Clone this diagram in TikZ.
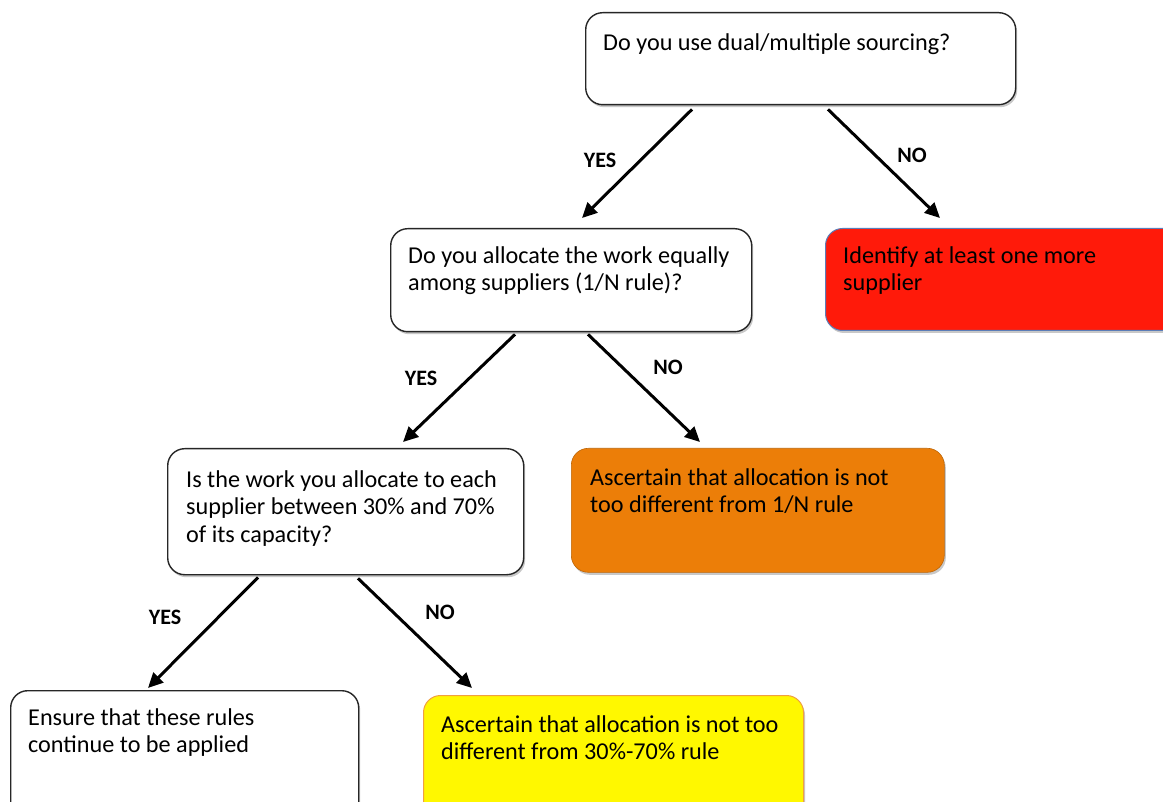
\documentclass[tikz,border=0pt]{standalone}
\usepackage{fontspec}
\setmainfont{Carlito}
\usetikzlibrary{calc,arrows.meta,shadows}
\definecolor{boxred}{HTML}{FF1A0A}
\definecolor{boxorange}{HTML}{EC7E08}
\definecolor{boxyellow}{HTML}{FFF800}
\definecolor{redline}{HTML}{5B7DB8}
\definecolor{yelline}{HTML}{F0A040}
\tikzset{
  box/.style={rectangle, rounded corners=17pt, draw=black!85, line width=1.4pt, fill=white,
    anchor=north west, inner sep=0pt,
    drop shadow={shadow xshift=1.5pt, shadow yshift=-2.5pt, opacity=0.3, fill=black!70}},
  txt/.style={anchor=north west, inner sep=0pt, align=left, font=\fontsize{24.2}{27.5}\selectfont},
  lab/.style={inner sep=0pt, font=\fontsize{22}{24}\selectfont\bfseries},
  arr/.style={line width=3pt, -{Triangle[length=15pt,width=14pt]}, shorten <=0pt}
}
\begin{document}
\begin{tikzpicture}[x=1pt,y=-1pt]
\useasboundingbox (0,0) rectangle (1163,802);
\clip (0,0) rectangle (1163,802);
\fill[white] (0,0) rectangle (1163,802);
% boxes
\node[box, minimum width=430pt, minimum height=92pt] (b1) at (585,12) {};
\node[box, minimum width=361pt, minimum height=103pt] (b2) at (390,228) {};
\node[box, draw=redline, line width=1pt, fill=boxred, minimum width=360pt, minimum height=102pt] (b3) at (825,228) {};
\node[box, minimum width=356pt, minimum height=126pt] (b4) at (167,448) {};
\node[box, draw=boxorange!80!black, line width=0.6pt, fill=boxorange, minimum width=373pt, minimum height=124pt] (b5) at (571,448) {};
\node[box, minimum width=348pt, minimum height=140pt] (b6) at (10,690) {};
\node[box, draw=yelline, line width=1pt, fill=boxyellow, minimum width=380pt, minimum height=140pt] (b7) at (423,695) {};
% texts
\node[txt] (t1) at ($(b1.north west)+(18,19)$) {\strut Do you use dual/multiple sourcing?};
\node[txt] (t2) at ($(b2.north west)+(18,16)$) {\strut Do you allocate the work equally\\among suppliers (1/N rule)?};
\node[txt] (t3) at ($(b3.north west)+(18,16)$) {\strut Identify at least one more\\supplier};
\node[txt] (t4) at ($(b4.north west)+(19,20)$) {\strut Is the work you allocate to each\\supplier between 30\% and 70\%\\of its capacity?};
\node[txt] (t5) at ($(b5.north west)+(19,18)$) {\strut Ascertain that allocation is not\\too different from 1/N rule};
\node[txt] (t6) at ($(b6.north west)+(18,16)$) {\strut Ensure that these rules\\continue to be applied};
\node[txt] (t7) at ($(b7.north west)+(18,18)$) {\strut Ascertain that allocation is not too\\different from 30\%-70\% rule};
% arrows
\draw[arr] ($(b1.south west)+(107,4)$) -- ($(b2.north west)+(192,-10)$);
\draw[arr] ($(b1.south west)+(243,4)$) -- ($(b3.north west)+(115,-10)$);
\draw[arr] ($(b2.south west)+(125,2)$) -- ($(b4.north west)+(236,-6)$);
\draw[arr] ($(b2.south west)+(198,2)$) -- ($(b5.north west)+(129,-6)$);
\draw[arr] ($(b4.south west)+(91,2)$) -- ($(b6.north west)+(138,-2)$);
\draw[arr] ($(b4.south west)+(191,3)$) -- ($(b7.north west)+(49,-7)$);
% labels
\node[lab] (y1) at (600,160) {YES};
\node[lab] (n1) at (912,155) {NO};
\node[lab] (y2) at (421,378) {YES};
\node[lab] (n2) at (668,367) {NO};
\node[lab] (y3) at (165,617) {YES};
\node[lab] (n3) at (440,612) {NO};
\end{tikzpicture}
\end{document}
